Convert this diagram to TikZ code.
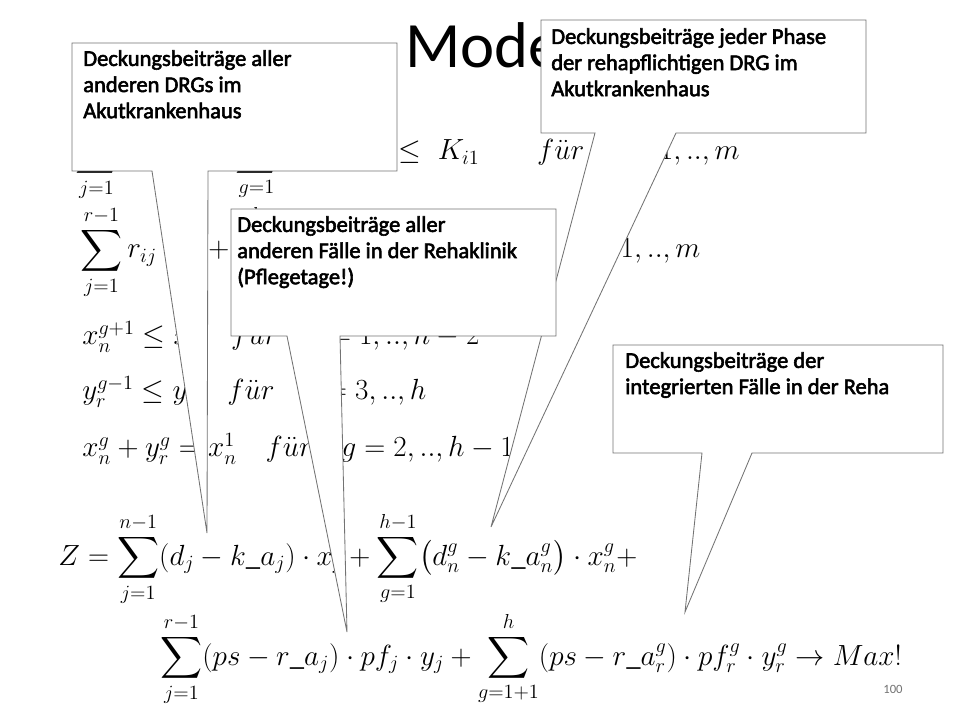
\documentclass[tikz,border=0pt]{standalone}
\usepackage{amsmath}
\usepackage{fontspec}
\setmainfont{Carlito}[AutoFakeBold=2.5]
\begin{document}
\begin{tikzpicture}[x=0.025cm,y=-0.025cm,
  frm/.style={anchor=base west,inner sep=0pt,font=\fontsize{20.5}{24}\selectfont},
  callout/.style={draw=black!55,fill=white,line width=0.6pt},
  ctext/.style={anchor=north west,align=left,inner sep=0pt,font=\fontsize{16}{18.6}\selectfont\bfseries}]
\useasboundingbox (0,0) rectangle (960,720);
\node[anchor=base west,inner sep=0pt,font=\fontsize{46}{50}\selectfont] (title) at (405,68) {Modell};
% formulas
\node[frm] (f1) at (75,160) {$\displaystyle\sum_{j=1}^{n-1} a_{ij}\cdot x_j+\sum_{g=1}^{h-1} a_{in}^g\;\cdot\; x_n^g\;\le\; K_{i1}\qquad f\ddot{u}r\quad i=1,..,m$};
\node[frm] (f2) at (80,258) {$\displaystyle\sum_{j=1}^{r-1} r_{ij}\cdot y_j+\sum_{g=2}^{h} r_{ir}^g\cdot y_r^g\le K_{i2}\qquad f\ddot{u}r\quad i=1,..,m$};
\node[frm] (f3) at (82,345) {$x_n^{g+1}\le x_n^g\quad f\ddot{u}r\quad g=1,..,h-2$};
\node[frm] (f4) at (82,400) {$y_r^{g-1}\le y_r^g\quad f\ddot{u}r\quad g=3,..,h$};
\node[frm] (f5) at (82,457) {$x_n^g+y_r^g=x_n^1\quad f\ddot{u}r\quad g=2,..,h-1$};
\node[frm] (f6) at (58,565) {$\displaystyle Z=\sum_{j=1}^{n-1}(d_j-k\_a_j)\cdot x_j+\sum_{g=1}^{h-1}\bigl(d_n^g-k\_a_n^g\bigr)\cdot x_n^g+$};
\node[frm] (f7) at (160,665) {$\displaystyle\sum_{j=1}^{r-1}(ps-r\_a_j)\cdot pf_j\cdot y_j+\sum_{g=1+1}^{h}(ps-r\_a_r^g)\cdot pf_r^g\cdot y_r^g\rightarrow Max!$};
\node[anchor=base,font=\fontsize{9}{10}\selectfont,text=black!55] (pg) at (893,693) {100};
% callouts
\coordinate (t1) at (207,533);
\draw[callout] (72,43) -- (397,43) -- (397,171) -- (208,171) -- (t1) -- (152,171) -- (72,171) -- cycle;
\node[ctext] (c1) at (83,50) {Deckungsbeiträge aller\\anderen DRGs im\\Akutkrankenhaus};
\coordinate (t2) at (491,527);
\draw[callout] (541,20) -- (866,20) -- (866,133) -- (676,133) -- (t2) -- (595,133) -- (541,133) -- cycle;
\node[ctext] (c2) at (551,28) {Deckungsbeiträge jeder Phase\\der rehapflichtigen DRG im\\Akutkrankenhaus};
\coordinate (t3) at (347,632);
\draw[callout] (231,209) -- (556,209) -- (556,336) -- (340,336) -- (t3) -- (287,336) -- (231,336) -- cycle;
\node[ctext] (c3) at (237,216) {Deckungsbeiträge aller\\anderen Fälle in der Rehaklinik\\(Pflegetage!)};
\coordinate (t4) at (685,612);
\draw[callout] (613,345) -- (943,345) -- (943,453) -- (752,453) -- (t4) -- (702,453) -- (613,453) -- cycle;
\node[ctext] (c4) at (625,352) {Deckungsbeiträge der\\integrierten Fälle in der Reha};
\end{tikzpicture}
\end{document}
